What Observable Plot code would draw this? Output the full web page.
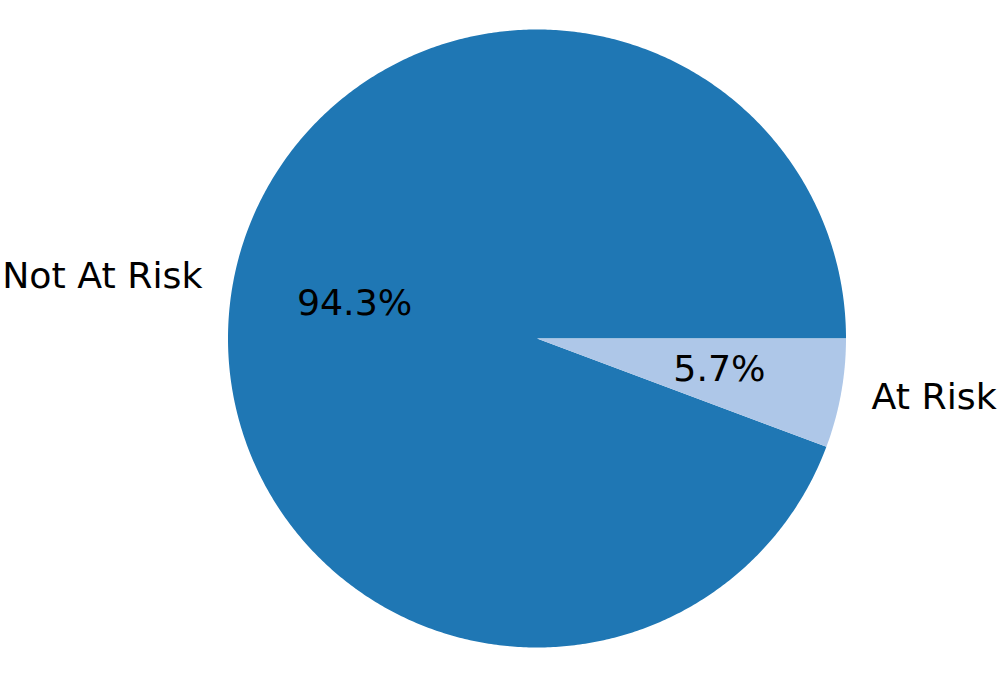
<!DOCTYPE html>
<html>
<head>
<meta charset="utf-8">
<script src="https://cdn.jsdelivr.net/npm/d3@7"></script>
<script src="https://cdn.jsdelivr.net/npm/@observablehq/plot@0.6"></script>
<style>
  html, body { margin: 0; padding: 0; background: #fff; }
  svg { display: block; }
</style>
</head>
<body>
<div id="chart"></div>
<script>
const labels = ["Not At Risk", "At Risk"];
const values = [94.3, 5.7];
const colors = ["#1f77b4", "#aec7e8"];

const W = 997, H = 676;
const cx = 536.5, cy = 338, R = 309;

// build slices: matplotlib style, start at 0°, counterclockwise
const total = d3.sum(values);
let acc = 0;
const slices = labels.map((label, i) => {
  const a1 = acc / total * 360;
  acc += values[i];
  const a2 = acc / total * 360;
  return {label, value: values[i], a1, a2, mid: (a1 + a2) / 2};
});

const rad = d => d * Math.PI / 180;
const polyPts = [];
for (const s of slices) {
  polyPts.push({label: s.label, x: 0, y: 0});
  const n = Math.max(2, Math.ceil((s.a2 - s.a1) / 0.5));
  for (let k = 0; k <= n; k++) {
    const a = rad(s.a1 + (s.a2 - s.a1) * k / n);
    polyPts.push({label: s.label, x: Math.cos(a), y: Math.sin(a)});
  }
  polyPts.push({label: s.label, x: 0, y: 0});
}

const outerLabels = slices.map(s => ({
  text: s.label,
  x: 1.1 * Math.cos(rad(s.mid)),
  y: 1.1 * Math.sin(rad(s.mid)),
  anchor: Math.cos(rad(s.mid)) < 0 ? "end" : "start"
}));
const pctLabels = slices.map(s => ({
  text: (s.value / total * 100).toFixed(1) + "%",
  x: 0.6 * Math.cos(rad(s.mid)),
  y: 0.6 * Math.sin(rad(s.mid))
}));

const FS = 36.3;
const chart = Plot.plot({
  width: W,
  height: H,
  margin: 0,
  style: {fontFamily: "DejaVu Sans", background: "#fff"},
  x: {domain: [-cx / R, (W - cx) / R], axis: null},
  y: {domain: [-(H - cy) / R, cy / R], axis: null},
  color: {domain: labels, range: colors},
  marks: [
    Plot.line(polyPts, {x: "x", y: "y", z: "label", fill: "label", stroke: "none", curve: "linear"}),
    Plot.text(pctLabels, {x: "x", y: "y", text: "text", fontSize: FS, fill: "black", textAnchor: "middle", dy: -2}),
    Plot.text(outerLabels.filter(d => d.anchor === "end"), {x: "x", y: "y", text: "text", fontSize: FS, fill: "black", textAnchor: "end", dy: -2}),
    Plot.text(outerLabels.filter(d => d.anchor === "start"), {x: "x", y: "y", text: "text", fontSize: FS, fill: "black", textAnchor: "start", dy: -2})
  ]
});
document.getElementById("chart").appendChild(chart);
</script>
</body>
</html>
